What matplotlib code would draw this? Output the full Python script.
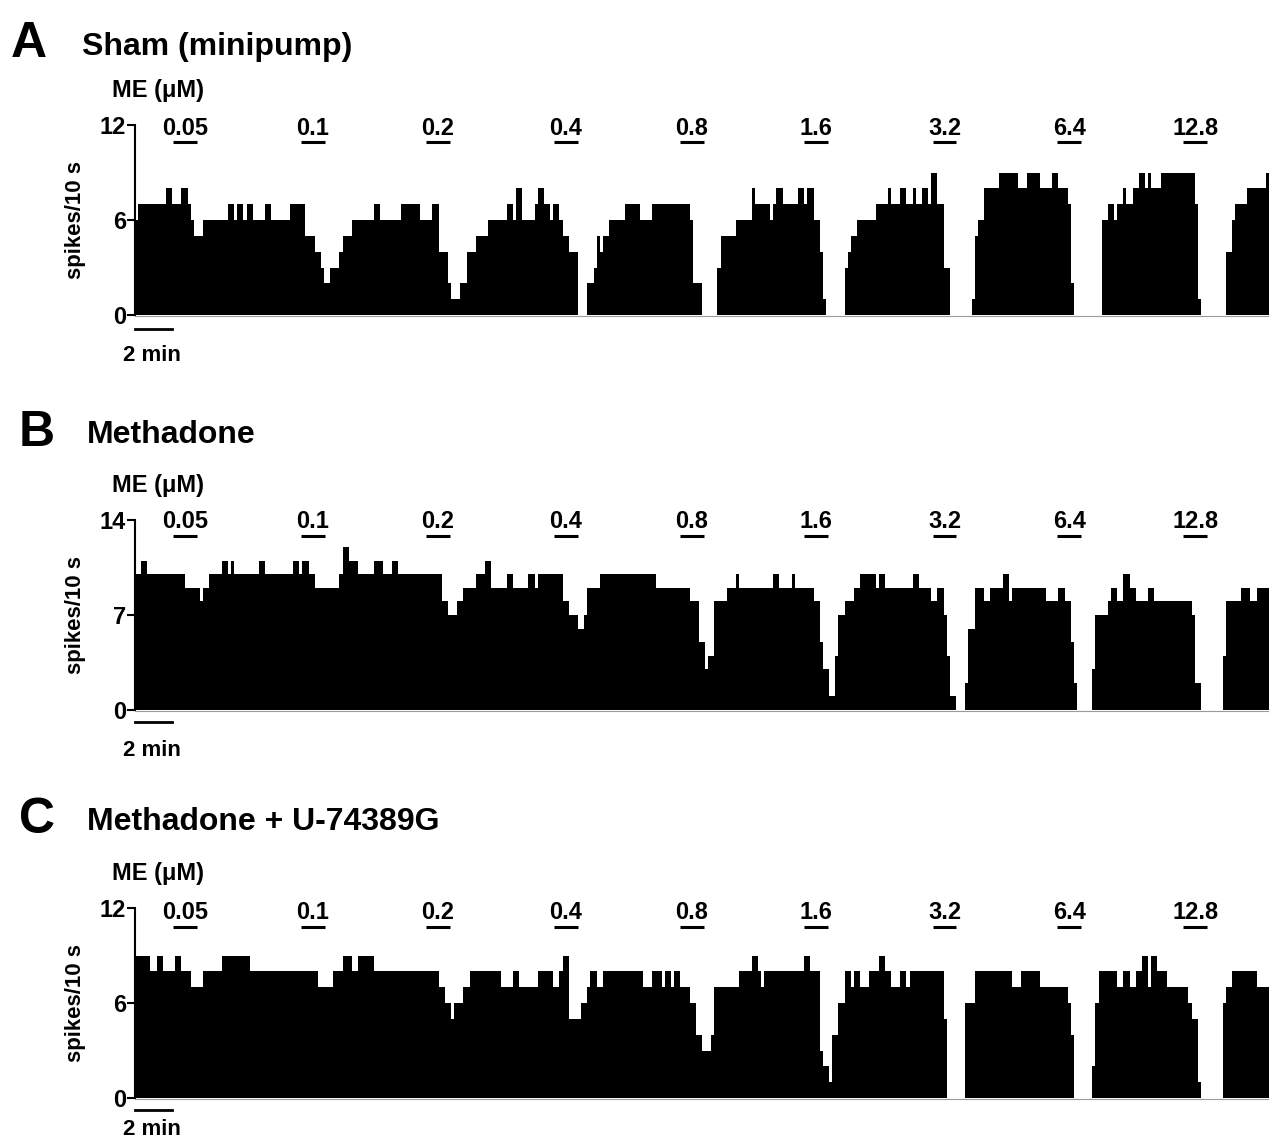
import numpy as np
import matplotlib
matplotlib.use("Agg")
import matplotlib.pyplot as plt
from matplotlib.transforms import blended_transform_factory

plt.rcParams['font.family'] = ['Liberation Sans', 'DejaVu Sans']
plt.rcParams['font.weight'] = 'bold'

# ---------------- data ----------------
BIN_MIN = 10.0 / 60.0          # one histogram bin = 10 s

# run-length encoded firing rate: (spikes per 10 s, number of consecutive bins)
sham_runs = [
    (6,1),(7,9),(8,2),(7,3),(8,2),(7,1),(6,1),(5,3),(6,8),(7,2),(6,1),(7,2),(6,1),(7,2),
    (6,4),(7,2),(6,6),(7,5),(5,3),(4,2),(3,1),(2,2),(3,3),(4,1),(5,3),(6,7),(7,2),(6,7),
    (7,6),(6,4),(7,2),(4,3),(2,1),(1,3),(2,2),(4,3),(5,4),(6,6),
    (7,2),(6,1),(8,2),(6,4),(7,1),(8,2),(7,2),(6,1),(7,2),(6,1),(5,2),(4,3),(0,3),(2,2),
    (3,1),(5,1),(4,1),(5,2),(6,5),(7,5),(6,4),(7,12),(6,1),(2,3),(0,5),(3,1),(5,5),(6,5),
    (8,1),(7,5),(6,1),(7,1),(8,2),(7,5),(8,2),(7,1),(8,2),(6,2),(4,1),(1,1),(0,6),(3,1),
    (4,1),(5,2),(6,6),
    (7,4),(8,1),(7,3),(8,2),(7,2),(8,1),(7,2),(8,2),(7,1),(9,2),(7,2),(3,2),(0,7),(1,1),
    (5,1),(6,2),(8,5),(9,6),(8,3),(9,4),(8,4),(9,2),(8,3),(7,1),(2,1),(0,9),(6,2),(7,2),
    (6,1),(7,2),(8,1),(7,2),(8,2),(9,2),(8,1),(9,1),(8,3),(9,11),(7,1),(1,1),(0,8),(4,2),
    (6,1),(7,4),(8,6),(9,1),
]
methadone_runs = [
    (10,2),(11,2),(10,12),(9,5),(8,1),(9,2),(10,4),(11,2),(10,1),(11,1),(10,8),(11,2),
    (10,9),(11,2),(10,1),(11,2),(10,2),(9,8),(10,1),(12,2),(11,3),(10,5),(11,3),(10,3),
    (11,2),(10,14),(8,2),(7,3),(8,2),(9,4),(10,3),(11,2),(9,5),
    (10,2),(9,5),(10,2),(9,1),(10,8),(8,2),(7,3),(6,2),(7,1),(9,4),(10,18),(9,11),(8,3),
    (5,2),(3,1),(4,2),(8,4),(9,3),(10,1),(9,11),(10,2),(9,4),(10,1),(9,6),(8,2),(5,1),
    (3,2),(1,2),(4,1),(7,2),(8,3),(9,2),(10,5),
    (9,1),(10,2),(9,9),(10,2),(9,4),(8,2),(9,2),(7,1),(4,1),(1,2),(0,3),(2,1),(6,2),(9,3),
    (8,2),(9,4),(10,2),(8,1),(9,11),(8,4),(9,2),(8,2),(5,1),(2,1),(0,5),(3,1),(7,4),(8,1),
    (9,2),(8,2),(10,2),(9,2),(8,4),(9,2),(8,12),(7,1),(2,2),(0,7),(4,1),(8,5),(9,3),(8,2),
    (9,4),
]
methadone_u74389g_runs = [
    (9,5),(8,2),(9,2),(8,4),(9,2),(8,3),(7,4),(8,6),(9,9),(8,22),(7,5),(8,3),(9,3),(8,2),
    (9,5),(8,21),(7,2),(6,2),(5,1),(6,3),(7,2),(8,10),
    (7,4),(8,2),(7,6),(8,5),(7,2),(8,1),(9,2),(5,4),(6,2),(7,1),(8,2),(7,2),(8,13),(7,3),
    (8,3),(7,1),(8,2),(7,1),(8,2),(7,3),(6,2),(4,2),(3,3),(4,1),(7,8),(8,4),(9,2),(8,1),
    (7,1),(8,13),(9,2),(8,3),(3,1),(2,2),(1,1),(4,2),(6,2),(8,2),(7,1),(8,2),(7,3),
    (8,3),(9,2),(8,2),(7,3),(8,2),(7,1),(8,11),(5,1),(0,6),(6,3),(8,12),(7,3),(8,6),(7,9),
    (6,1),(4,1),(0,6),(2,1),(6,1),(8,6),(7,2),(8,2),(7,2),(8,2),(9,2),(7,1),(9,2),(8,3),
    (7,7),(6,1),(5,2),(1,1),(0,7),(6,1),(7,2),(8,8),(7,4),
]

dose_labels = ['0.05', '0.1', '0.2', '0.4', '0.8', '1.6', '3.2', '6.4', '12.8']
dose_onset_min = [2.04, 8.92, 15.65, 22.53, 29.3, 36.0, 42.9, 49.6, 56.4]
dose_duration_min = 1.29

panel_letters = ['A', 'B', 'C']
panel_titles = ['Sham (minipump)', 'Methadone', 'Methadone + U-74389G']
panel_runs = [sham_runs, methadone_runs, methadone_u74389g_runs]
y_max = [12, 14, 12]
y_ticks = [[0, 6, 12], [0, 7, 14], [0, 6, 12]]
scale_bar_min = 2
scale_bar_label = '2 min'
drug_label = 'ME (\u03bcM)'
y_label = 'spikes/10 s'

# ---------------- layout (pixels) ----------------
W, H = 1269, 1140
AX_LEFT, AX_W, AX_H = 135, 1134, 190
ax_bottom_px = [315, 710, 1098]
letter_pos = [(11, 57), (19, 446), (19, 833)]
title_pos = [(82, 55), (87, 443), (87, 830)]
label_base_frac = [0.947, 0.958, 0.942]
bar_frac = [0.91, 0.916, 0.902]
scale_bar_px = [329, 722, 1110]
scale_text_px = [361, 756, 1135]

fig = plt.figure(figsize=(W / 100, H / 100), dpi=100)

def fx(px):
    return px / W

def fy(py):
    return 1 - py / H

for i in range(3):
    runs = panel_runs[i]
    levels = np.repeat([r[0] for r in runs], [r[1] for r in runs])
    n = len(levels)
    t = np.arange(n) * BIN_MIN

    bot = ax_bottom_px[i]
    ax = fig.add_axes([fx(AX_LEFT), fy(bot), AX_W / W, AX_H / H])
    ax.bar(t, levels, width=BIN_MIN, align='edge', color='black', linewidth=0)
    ax.set_xlim(0, n * BIN_MIN)
    ax.set_ylim(0, y_max[i])
    ax.set_yticks(y_ticks[i])
    ax.set_yticklabels([str(v) for v in y_ticks[i]], fontsize=17, fontweight='bold')
    ax.set_xticks([])
    ax.tick_params(axis='y', length=5.5, width=1.5, pad=1, direction='out')
    for s in ('top', 'right'):
        ax.spines[s].set_visible(False)
    ax.spines['left'].set_linewidth(1.5)
    ax.spines['bottom'].set_color('#9a9a9a')
    ax.spines['bottom'].set_linewidth(0.8)
    ax.spines['bottom'].set_position(('outward', 1))
    ax.set_facecolor('none')

    ax.set_ylabel(y_label, fontsize=16, fontweight='bold')
    ax.yaxis.set_label_coords(-0.0432, 0.5)

    tr = blended_transform_factory(ax.transData, ax.transAxes)
    for lab, t0 in zip(dose_labels, dose_onset_min):
        ax.plot([t0, t0 + dose_duration_min], [bar_frac[i]] * 2, color='black',
                lw=2.2, solid_capstyle='butt', transform=tr, clip_on=False)
        ax.text(t0 + dose_duration_min / 2, label_base_frac[i], lab, transform=tr,
                ha='center', va='baseline', fontsize=17, fontweight='bold',
                clip_on=False)

    # scale bar
    sb_frac = (bot - scale_bar_px[i]) / AX_H
    ax.plot([0, scale_bar_min], [sb_frac] * 2, color='black', lw=2.0,
            solid_capstyle='projecting', transform=tr, clip_on=False)
    fig.text(fx(152), fy(scale_text_px[i]), scale_bar_label, ha='center',
             va='baseline', fontsize=16, fontweight='bold')

    # headings
    lx, ly = letter_pos[i]
    fig.text(fx(lx), fy(ly), panel_letters[i], ha='left', va='baseline',
             fontsize=36, fontweight='bold')
    tx, ty = title_pos[i]
    fig.text(fx(tx), fy(ty), panel_titles[i], ha='left', va='baseline',
             fontsize=23, fontweight='bold')
    top = bot - AX_H
    fig.text(fx(112), fy(top - 28), drug_label, ha='left', va='baseline',
             fontsize=17, fontweight='bold')

fig.savefig('out.png', dpi=100)
